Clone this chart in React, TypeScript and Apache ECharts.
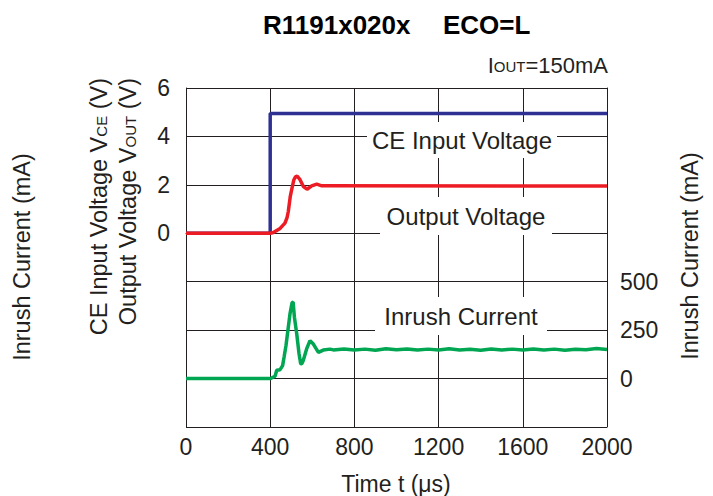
import React, { useEffect, useRef } from "react";
import * as echarts from "echarts";

const xTicks = [0, 400, 800, 1200, 1600, 2000];
const voltTickLabels = [0, 2, 4, 6];
const currentTickLabels = [0, 250, 500];

const ceInput: [number, number][] = [
  [0, 0], [400, 0], [400, 4.95], [2000, 4.95],
];

const outputVoltage: [number, number][] = [
  [0, 0], [400, 0], [415, 0.03], [447, 0.2], [470, 0.42], [480, 0.65], [486, 0.9],
  [495, 1.5], [502, 1.8], [512, 2.2], [520, 2.33], [528, 2.36], [540, 2.24],
  [557, 1.94], [575, 1.82], [597, 1.96], [621, 2.03], [645, 1.96], [2000, 1.95],
];

const inrushCurrent: [number, number][] = [
  [0, 0], [400, 0], [423, 12], [431, 43], [447, 46], [459, 67], [466, 111],
  [475, 171], [486, 265], [494, 334], [504, 392], [509, 394], [515, 317],
  [526, 231], [537, 128], [545, 76], [550, 76], [557, 93], [573, 153],
  [589, 196], [605, 178], [629, 135], [652, 147], [684, 152],
  [700, 148], [750, 153], [800, 147], [850, 152], [900, 146], [950, 154],
  [1000, 149], [1050, 153], [1100, 147], [1150, 152], [1200, 148], [1250, 154],
  [1300, 147], [1350, 151], [1400, 146], [1450, 153], [1500, 148], [1550, 152],
  [1600, 147], [1650, 153], [1700, 148], [1750, 152], [1800, 146], [1850, 151],
  [1900, 149], [1950, 155], [2000, 150],
];

const FONT = '"Liberation Sans", Arial, Helvetica, sans-serif';
const INK = "#231f20";

export default function App() {
  const ref = useRef<HTMLDivElement>(null);
  useEffect(() => {
    if (!ref.current) return;
    const chart = echarts.init(ref.current, undefined, { renderer: "svg" });
    const small = {
      fontSize: 15, fontFamily: FONT, fill: INK, color: INK,
      verticalAlign: "bottom" as const, padding: [0, 0, 2, 0],
    };
    const labelBox = (cx: number, cy: number, w: number, h: number, text: string) => ({
      type: "group",
      z: 50,
      children: [
        { type: "rect", shape: { x: cx - w / 2, y: cy - h / 2, width: w, height: h }, style: { fill: "#fff" }, z: 50 },
        {
          type: "text", x: cx, y: cy, z: 51,
          style: { text, fontSize: 24, fontFamily: FONT, fill: INK, align: "center", verticalAlign: "middle" },
        },
      ],
    });
    chart.setOption({
      animation: false,
      grid: { left: 186, right: 106, top: 88, bottom: 69, containLabel: false },
      xAxis: {
        type: "value", min: 0, max: 2000, interval: 400,
        axisLine: { show: true, lineStyle: { color: INK, width: 1 } },
        axisTick: { show: false },
        splitLine: { show: true, lineStyle: { color: INK, width: 1 } },
        axisLabel: {
          margin: 8, fontSize: 23, fontFamily: FONT, color: INK,
          formatter: (v: number) => (xTicks.includes(v) ? String(v) : ""),
        },
      },
      yAxis: [
        {
          type: "value", min: -8, max: 6, interval: 2, position: "left",
          axisLine: { show: true, lineStyle: { color: INK, width: 1 } },
          axisTick: { show: false },
          splitLine: { show: true, lineStyle: { color: INK, width: 1 } },
          axisLabel: {
            margin: 16, fontSize: 23, fontFamily: FONT, color: INK,
            formatter: (v: number) => (voltTickLabels.includes(v) ? String(v) : ""),
          },
        },
        {
          type: "value", min: -250, max: 1500, interval: 250, position: "right",
          axisLine: { show: true, lineStyle: { color: INK, width: 1 } },
          axisTick: { show: false },
          splitLine: { show: false },
          axisLabel: {
            margin: 13, fontSize: 23, fontFamily: FONT, color: INK,
            formatter: (v: number) => (currentTickLabels.includes(v) ? String(v) : ""),
          },
        },
      ],
      series: [
        {
          name: "CE Input Voltage", type: "line", data: ceInput, yAxisIndex: 0,
          showSymbol: false, lineStyle: { color: "#2e3192", width: 3.5 }, z: 3,
        },
        {
          name: "Output Voltage", type: "line", data: outputVoltage, yAxisIndex: 0,
          showSymbol: false, lineStyle: { color: "#ed1c24", width: 3.5 }, z: 4,
        },
        {
          name: "Inrush Current", type: "line", data: inrushCurrent, yAxisIndex: 1,
          showSymbol: false, lineStyle: { color: "#00a651", width: 3.5 }, z: 4,
        },
      ],
      graphic: [
        labelBox(462, 140, 190, 36, "CE Input Voltage"),
        labelBox(466, 216, 172, 38, "Output Voltage"),
        labelBox(461, 316, 172, 38, "Inrush Current"),
        {
          type: "text", x: 263, y: 25,
          style: { text: "R1191x020x", fontSize: 26, fontWeight: "bold", fontFamily: FONT, fill: "#000", align: "left", verticalAlign: "middle" },
        },
        {
          type: "text", x: 443, y: 25,
          style: { text: "ECO=L", fontSize: 26, fontWeight: "bold", fontFamily: FONT, fill: "#000", align: "left", verticalAlign: "middle" },
        },
        {
          type: "text", x: 608, y: 65,
          style: {
            text: "I{s|OUT}=150mA", fontSize: 22, fontFamily: FONT, fill: INK, align: "right", verticalAlign: "middle",
            rich: { s: small },
          },
        },
        {
          type: "text", x: 99, y: 78, rotation: Math.PI / 2,
          style: {
            text: "CE Input Voltage V{s|CE} (V)", fontSize: 23.5, fontFamily: FONT, fill: INK, align: "right", verticalAlign: "middle",
            rich: { s: small },
          },
        },
        {
          type: "text", x: 128, y: 78, rotation: Math.PI / 2,
          style: {
            text: "Output Voltage V{s|OUT} (V)", fontSize: 23.5, fontFamily: FONT, fill: INK, align: "right", verticalAlign: "middle",
            rich: { s: small },
          },
        },
        {
          type: "text", x: 22, y: 257, rotation: Math.PI / 2,
          style: { text: "Inrush Current (mA)", fontSize: 23.5, fontFamily: FONT, fill: INK, align: "center", verticalAlign: "middle" },
        },
        {
          type: "text", x: 690, y: 256, rotation: Math.PI / 2,
          style: { text: "Inrush Current (mA)", fontSize: 23.5, fontFamily: FONT, fill: INK, align: "center", verticalAlign: "middle" },
        },
        {
          type: "text", x: 396, y: 484,
          style: { text: "Time t (μs)", fontSize: 23, fontFamily: FONT, fill: INK, align: "center", verticalAlign: "middle" },
        },
      ],
    });
    return () => chart.dispose();
  }, []);
  return (
    <div
      ref={ref}
      style={{ position: "fixed", left: 0, top: 0, width: 713, height: 496, background: "#fff" }}
    />
  );
}
